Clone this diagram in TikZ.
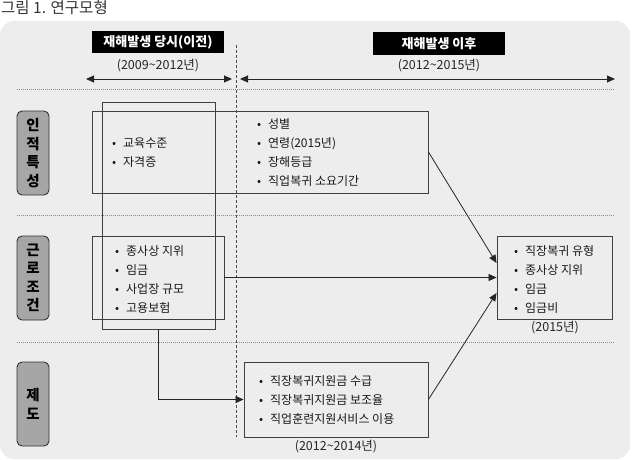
\documentclass[tikz,border=0pt]{standalone}
\usepackage{fontspec}
\setmainfont{Noto Sans CJK KR}
\usetikzlibrary{arrows.meta}
\newcommand{\bul}{\makebox[11pt][l]{•}}

\begin{document}
\begin{tikzpicture}[x=1pt,y=-1pt,
    box/.style={draw=black!75, line width=0.9pt, inner sep=0pt},
    head/.style={fill=black, text=white, font=\fontsize{13}{15}\selectfont\bfseries,
      minimum width=132pt, minimum height=22pt, inner sep=0pt},
    cat/.style={draw=black!80, fill=black!35, rounded corners=5pt, line width=0.9pt,
      minimum width=32pt, minimum height=84pt, align=center, inner sep=0pt,
      font=\fontsize{14.5}{18.5}\selectfont\bfseries},
    items/.style={anchor=west, align=left, inner sep=0pt, text=black!90,
      font=\fontsize{12}{19}\selectfont},
    period/.style={text=black!85, font=\fontsize{12.5}{14}\selectfont},
    sep/.style={black!45, dash pattern=on 1pt off 1pt, line width=0.8pt},
    link/.style={->, black!85, line width=0.8pt},
    >={Triangle[length=8pt,width=7pt]}]

        % Page and background
        \useasboundingbox (0,0) rectangle (634,460);
        \fill[black!7, rounded corners=14pt] (0,21) rectangle (630,459);
        \node[anchor=base west, inner sep=0pt, text=black!80, font=\fontsize{15.5}{17}\selectfont] (title) at (1,14) {그림 1. 연구모형};

        % Period headers
        \node[head] (before) at (158,42.5) {재해발생 당시(이전)};
        \node[head, minimum height=23pt] (after) at (439,43.5) {재해발생 이후};
        \node[period] (per1) at (158,66) {(2009\textasciitilde2012년)};
        \node[period] (per2) at (439,66) {(2012\textasciitilde2015년)};

        % Time arrows and the dividing lines
        \coordinate (t0) at (86,79);
        \coordinate (t1) at (232,79);
        \coordinate (t2) at (240,79);
        \coordinate (t3) at (615,79);
        \draw[<->, black!85, line width=0.9pt] (t0) -- (t1);
        \draw[<->, black!85, line width=0.9pt] (t2) -- (t3);
        \coordinate (d0) at (236,45);
        \coordinate (d1) at (236,437);
        \draw[black!70, dash pattern=on 3pt off 2pt, line width=0.7pt] (d0) -- (d1);
        \foreach \y in {89,215,342}
            \draw[sep] (17,\y) -- (615,\y);

        % Row labels
        \node[cat] (human) at (33,153) {인\\적\\특\\성};
        \node[cat] (work) at (33,278) {근\\로\\조\\건};
        \node[cat] (inst) at (33,404) {제\\도};

        % Boxes
        \node[box, minimum width=336pt, minimum height=82pt] (hbox) at (260,152) {};
        \node[box, minimum width=113pt, minimum height=227pt] (pre) at (158.5,215.5) {};
        \node[box, minimum width=132pt, minimum height=83pt] (wbox) at (158,277.5) {};
        \node[box, minimum width=115pt, minimum height=83pt] (out) at (554.5,277.5) {};
        \node[box, minimum width=184pt, minimum height=75pt] (ibox) at (336,399.5) {};

        % Variables
        \node[items] (hl) at (112,152.5) {\bul 교육수준\\\bul 자격증};
        \node[items] (hr) at (257,152.5) {\bul 성별\\\bul 연령(2015년)\\\bul 장해등급\\\bul 직업복귀 소요기간};
        \node[items] (wl) at (115,279.5) {\bul 종사상 지위\\\bul 임금\\\bul 사업장 규모\\\bul 고용보험};
        \node[items] (ol) at (514,279.5) {\bul 직장복귀 유형\\\bul 종사상 지위\\\bul 임금\\\bul 임금비};
        \node[period] (per3) at (555,328) {(2015년)};
        \node[items] (il) at (259,400) {\bul 직장복귀지원금 수급\\\bul 직장복귀지원금 보조율\\\bul 직업훈련지원서비스 이용};
        \node[period] (per4) at (336,447) {(2012\textasciitilde2014년)};

        % Paths to the outcome
        \draw[link] (hbox.east) -- ([yshift=14.5pt]out.west);
        \draw[link] (wbox.east) -- (out.west);
        \draw[link] (ibox.east) -- ([yshift=-15.5pt]out.west);
        \draw[link] (pre.south) |- (ibox.west);

\end{tikzpicture}
\end{document}
